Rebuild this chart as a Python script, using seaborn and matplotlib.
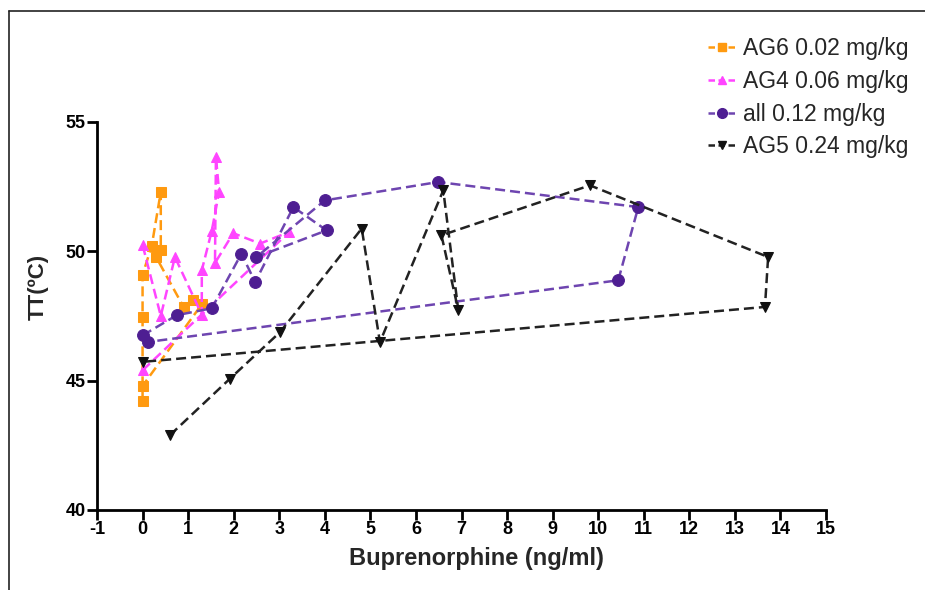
import matplotlib
matplotlib.use("Agg")
import matplotlib.pyplot as plt
from matplotlib.lines import Line2D
import seaborn as sns
import pandas as pd

# ---- data (plotted in time order) ----
ag6_x = [0.00, 0.00, 0.00, 0.20, 0.40, 0.40, 0.29, 0.90, 1.10, 1.30, 0.00]
ag6_y = [44.20, 47.45, 49.10, 50.20, 52.30, 50.05, 49.80, 47.85, 48.10, 47.95, 44.80]

ag4_x = [0.00, 3.22, 2.58, 1.99, 1.59, 1.61, 1.68, 1.52, 1.30, 1.30, 0.71, 0.40, 0.00]
ag4_y = [45.40, 50.75, 50.30, 50.70, 49.55, 53.65, 52.30, 50.80, 49.27, 47.55, 49.78, 47.50, 50.25]

all_x = [0.00, 0.75, 1.52, 2.17, 2.47, 3.31, 4.04, 2.50, 4.00, 6.49, 10.88, 10.44, 0.13]
all_y = [46.75, 47.53, 47.80, 49.91, 48.81, 51.71, 50.81, 49.78, 51.97, 52.68, 51.71, 48.88, 46.50]

ag5_x = [0.60, 1.92, 3.02, 4.81, 5.21, 6.60, 6.93, 6.56, 9.82, 13.73, 13.66, 0.02]
ag5_y = [42.89, 45.08, 46.88, 50.88, 46.49, 52.36, 47.72, 50.62, 52.55, 49.78, 47.85, 45.73]

labels = ["AG6 0.02 mg/kg", "AG4 0.06 mg/kg", "all 0.12 mg/kg", "AG5 0.24 mg/kg"]
x_ticks = list(range(-1, 16))
y_ticks = [40, 45, 50, 55]

series = [
    (ag6_x, ag6_y, "#FF9A10", "#FF9A10", "s", 7.5),
    (ag4_x, ag4_y, "#FF45FF", "#FF45FF", "^", 7.5),
    (all_x, all_y, "#6E45B0", "#4E1E92", "o", 8.5),
    (ag5_x, ag5_y, "#222222", "#111111", "v", 7.5),
]

sns.set_theme(style="ticks")
plt.rcParams["font.family"] = ["Liberation Sans", "DejaVu Sans"]

fig = plt.figure(figsize=(9.25, 5.9), dpi=100)
ax = fig.add_axes([97 / 925, 80 / 590, (826 - 97) / 925, (510 - 122) / 590])

handles = []
for (xs, ys, lc, mc, mk, ms), lab in zip(series, labels):
    df = pd.DataFrame({"x": xs, "y": ys})
    sns.lineplot(data=df, x="x", y="y", sort=False, estimator=None, ax=ax,
                 color=lc, lw=1.8, linestyle=(0, (4, 2)), marker=mk,
                 markersize=ms, markerfacecolor=mc, markeredgecolor=mc,
                 label=lab, legend=False)
    handles.append(Line2D([0], [0], color=lc, lw=1.8, linestyle=(0, (2.6, 1.4)),
                          marker=mk, markersize=ms - 1.5, markerfacecolor=mc,
                          markeredgecolor=mc))

ax.set_xlim(-1, 15)
ax.set_ylim(40, 55)
ax.set_xticks(x_ticks)
ax.set_yticks(y_ticks)
ax.set_xticklabels([str(t) for t in x_ticks], fontweight="bold", fontsize=13)
ax.set_yticklabels([str(t) for t in y_ticks], fontweight="bold", fontsize=13)
ax.tick_params(axis="both", direction="out", length=7, width=2, color="black",
               pad=1, labelcolor="black")
for s in ["top", "right"]:
    ax.spines[s].set_visible(False)
for s in ["left", "bottom"]:
    ax.spines[s].set_linewidth(2)
    ax.spines[s].set_color("black")

ax.set_xlabel("Buprenorphine (ng/ml)", fontweight="bold", fontsize=17, labelpad=8)
ax.xaxis.set_label_coords(0.521, -0.095)
ax.set_ylabel("TT(ºC)", fontweight="bold", fontsize=16, labelpad=11)
ax.yaxis.set_label_coords(-0.066, 0.575)

fig.legend(handles, labels, loc="upper left", bbox_to_anchor=(0.756, 0.952),
           frameon=False, fontsize=16.5, handlelength=1.2, handletextpad=0.3,
           labelspacing=0.42, borderaxespad=0)

# screenshot frame (top and left edges)
fig.add_artist(Line2D([8.5 / 925, 8.5 / 925], [0, 1 - 11 / 590], color="#222222",
                      lw=1.2, transform=fig.transFigure))
fig.add_artist(Line2D([8.5 / 925, 1], [1 - 11 / 590, 1 - 11 / 590], color="#222222",
                      lw=1.2, transform=fig.transFigure))

fig.savefig("out.png", dpi=100, facecolor="white")
